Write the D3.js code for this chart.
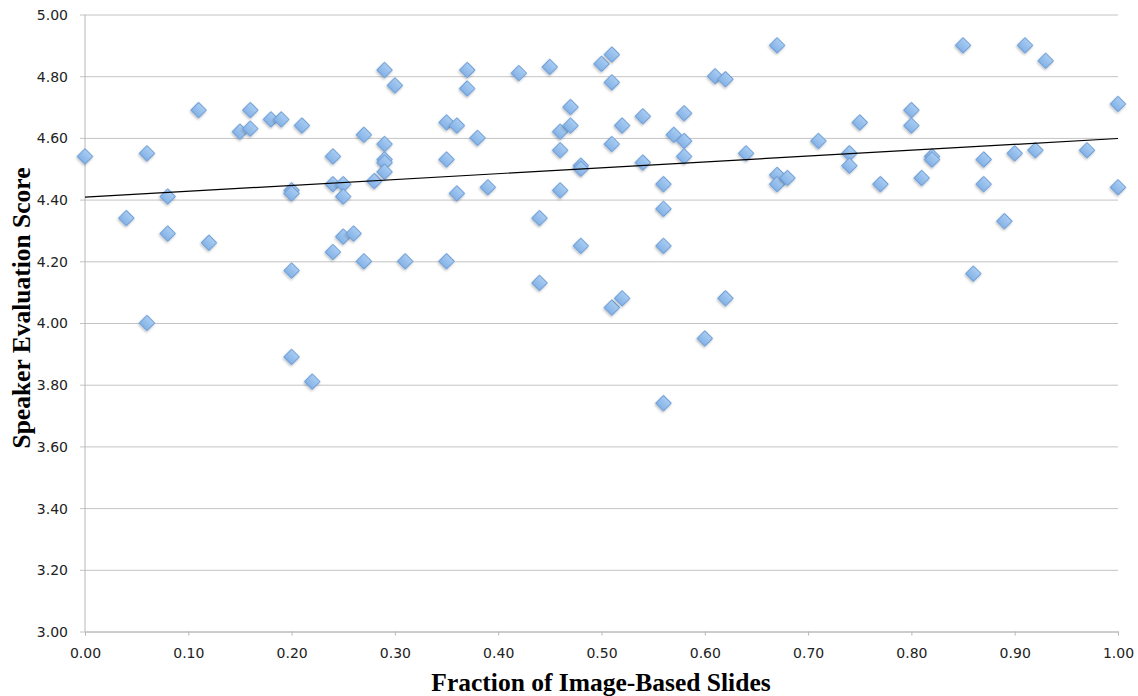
<!DOCTYPE html>
<html>
<head>
<meta charset="utf-8">
<script src="https://cdn.jsdelivr.net/npm/d3@7"></script>
<style>
  body { margin: 0; background: #fff; }
  .tick text { font-family: "DejaVu Sans", sans-serif; font-size: 14px; fill: #222; }
  .title { font-family: "Liberation Serif", serif; font-weight: bold; font-size: 25.5px; fill: #000; }
</style>
</head>
<body>
<div id="chart"></div>
<script>
// fraction of image-based slides per talk
var fraction = [
  0.00, 0.04, 0.06, 0.06, 0.08, 0.08, 0.11, 0.12, 0.15, 0.16,
  0.16, 0.18, 0.19, 0.20, 0.20, 0.20, 0.20, 0.21, 0.22, 0.24,
  0.24, 0.24, 0.25, 0.25, 0.25, 0.26, 0.27, 0.27, 0.28, 0.29,
  0.29, 0.29, 0.29, 0.29, 0.30, 0.31, 0.35, 0.35, 0.35, 0.36,
  0.36, 0.37, 0.37, 0.38, 0.39, 0.42, 0.44, 0.44, 0.45, 0.46,
  0.46, 0.46, 0.47, 0.47, 0.48, 0.48, 0.48, 0.50, 0.51, 0.51,
  0.51, 0.51, 0.52, 0.52, 0.54, 0.54, 0.56, 0.56, 0.56, 0.56,
  0.57, 0.58, 0.58, 0.58, 0.60, 0.61, 0.62, 0.62, 0.64, 0.67,
  0.67, 0.67, 0.68, 0.71, 0.74, 0.74, 0.75, 0.77, 0.80, 0.80,
  0.81, 0.82, 0.82, 0.85, 0.86, 0.87, 0.87, 0.89, 0.90, 0.91,
  0.92, 0.93, 0.97, 1.00, 1.00
];
// speaker evaluation score per talk
var score = [
  4.54, 4.34, 4.55, 4.00, 4.41, 4.29, 4.69, 4.26, 4.62, 4.69,
  4.63, 4.66, 4.66, 4.43, 4.42, 4.17, 3.89, 4.64, 3.81, 4.54,
  4.45, 4.23, 4.45, 4.41, 4.28, 4.29, 4.61, 4.20, 4.46, 4.82,
  4.58, 4.53, 4.52, 4.49, 4.77, 4.20, 4.65, 4.53, 4.20, 4.64,
  4.42, 4.82, 4.76, 4.60, 4.44, 4.81, 4.34, 4.13, 4.83, 4.62,
  4.56, 4.43, 4.70, 4.64, 4.51, 4.50, 4.25, 4.84, 4.87, 4.78,
  4.58, 4.05, 4.64, 4.08, 4.67, 4.52, 4.45, 4.37, 4.25, 3.74,
  4.61, 4.68, 4.59, 4.54, 3.95, 4.80, 4.79, 4.08, 4.55, 4.90,
  4.48, 4.45, 4.47, 4.59, 4.55, 4.51, 4.65, 4.45, 4.69, 4.64,
  4.47, 4.54, 4.53, 4.90, 4.16, 4.53, 4.45, 4.33, 4.55, 4.90,
  4.56, 4.85, 4.56, 4.71, 4.44
];
// linear trendline
var trendIntercept = 4.408;
var trendSlope = 0.190;

var xTicks = [0, 0.1, 0.2, 0.3, 0.4, 0.5, 0.6, 0.7, 0.8, 0.9, 1.0];
var yTicks = [3.0, 3.2, 3.4, 3.6, 3.8, 4.0, 4.2, 4.4, 4.6, 4.8, 5.0];

function drawChart(div) {
    var width = 1138, height = 696;
    var margin = {left: 85, right: 20, top: 14.5, bottom: 64.5};

    var svg = d3.select(div)
        .append("svg")
        .attr("width", width)
        .attr("height", height);

    var defs = svg.append("defs");
    var grad = defs.append("linearGradient")
        .attr("id", "dgrad")
        .attr("x1", 0).attr("y1", 0).attr("x2", 0).attr("y2", 1);
    grad.append("stop").attr("offset", "0%").attr("stop-color", "#a9cdf2");
    grad.append("stop").attr("offset", "100%").attr("stop-color", "#84b2e6");
    var shadow = defs.append("filter").attr("id", "shadow")
        .attr("x", "-50%").attr("y", "-50%").attr("width", "200%").attr("height", "200%");
    shadow.append("feDropShadow")
        .attr("dx", 0.5).attr("dy", 1.5).attr("stdDeviation", 1)
        .attr("flood-color", "#000").attr("flood-opacity", 0.25);

    var x = d3.scaleLinear()
        .domain([0, 1])
        .range([margin.left, width - margin.right]);
    var y = d3.scaleLinear()
        .domain([3, 5])
        .range([height - margin.bottom, margin.top]);

    // horizontal gridlines with small outside ticks
    var yAxis = d3.axisLeft(y)
        .tickValues(yTicks)
        .tickFormat(d3.format(".2f"))
        .tickSize(-(width - margin.right - margin.left))
        .tickPadding(17);
    var gy = svg.append("g")
        .attr("transform", "translate(" + margin.left + ",0)")
        .call(yAxis);
    gy.select(".domain").remove();
    gy.selectAll(".tick line")
        .attr("x1", -5)
        .attr("stroke", "#c4c4c4");
    gy.selectAll(".tick text").attr("dy", "0.35em");

    svg.append("line")
        .attr("x1", margin.left).attr("x2", margin.left)
        .attr("y1", margin.top).attr("y2", height - margin.bottom)
        .attr("stroke", "#b8b8b8");

    var xAxis = d3.axisBottom(x)
        .tickValues(xTicks)
        .tickFormat(d3.format(".2f"))
        .tickSize(4)
        .tickPadding(13);
    var gx = svg.append("g")
        .attr("transform", "translate(0," + (height - margin.bottom) + ")")
        .call(xAxis);
    gx.select(".domain").attr("stroke", "#b8b8b8");
    gx.selectAll(".tick line").attr("stroke", "#b8b8b8");

    // points
    var points = fraction.map(function(f, i) {
        return {x: f, y: score[i]};
    });
    var diamond = d3.symbol().type(d3.symbolSquare).size(120);

    svg.append("g")
        .selectAll("path")
        .data(points)
        .enter()
        .append("path")
        .attr("d", diamond)
        .attr("transform", function(d) {
            return "translate(" + x(d.x) + "," + y(d.y) + ") rotate(45)";
        })
        .attr("fill", "url(#dgrad)")
        .attr("stroke", "#6f9fd6")
        .attr("stroke-width", 1)
        .attr("filter", "url(#shadow)");

    // trendline
    svg.append("line")
        .attr("x1", x(0))
        .attr("y1", y(trendIntercept))
        .attr("x2", x(1))
        .attr("y2", y(trendIntercept + trendSlope))
        .attr("stroke", "#000")
        .attr("stroke-width", 1.2);

    // axis titles
    svg.append("text")
        .attr("class", "title")
        .attr("x", 601)
        .attr("y", 691)
        .attr("text-anchor", "middle")
        .text("Fraction of Image-Based Slides");

    svg.append("text")
        .attr("class", "title")
        .attr("transform", "translate(30," + 308 + ") rotate(-90)")
        .attr("text-anchor", "middle")
        .text("Speaker Evaluation Score");
}

drawChart("#chart");
</script>
</body>
</html>
